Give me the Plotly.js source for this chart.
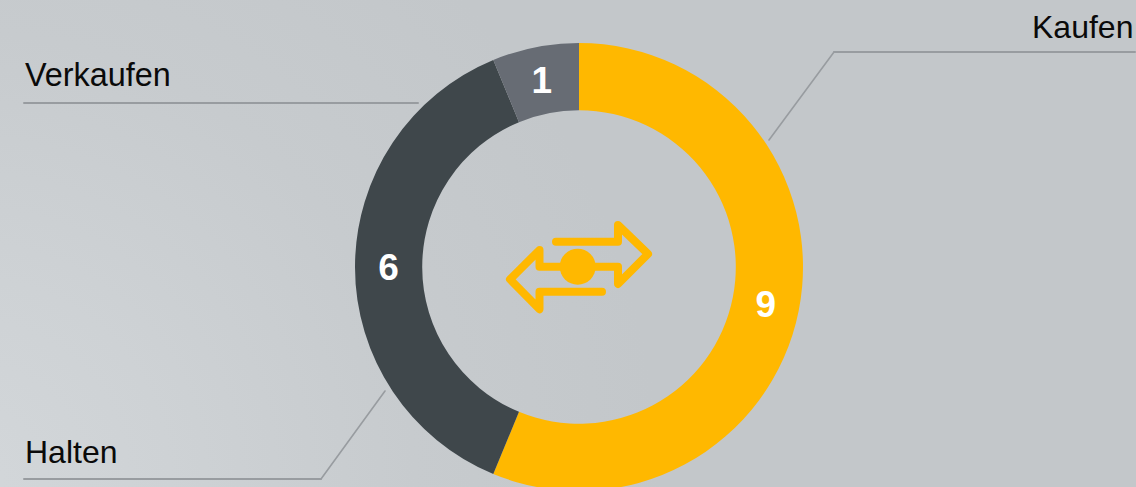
<!DOCTYPE html>
<html>
<head>
<meta charset="utf-8">
<script src="https://cdn.plot.ly/plotly-3.0.0.min.js"></script>
<style>
html,body{margin:0;padding:0;width:1136px;height:487px;overflow:hidden;
background:radial-gradient(circle 700px at -40px 487px,#d3d7da 0%,#ced2d5 30%,#c7cbce 65%,#c3c7ca 100%);}
#chart{width:1136px;height:500px;}
.shapelayer path{stroke-linejoin:round;stroke-linecap:round;}
</style>
</head>
<body>
<div id="chart"></div>
<script>
const categories = ["Kaufen", "Halten", "Verkaufen"];
const values = [9, 6, 1];
const sliceColors = ["#FFB800", "#3F474B", "#676C74"];

const W = 1136, H = 500;
const cx = 579, cy = 267, R = 224;
const px = x => x / W;
const py = y => 1 - y / H;
const pathOf = pts => pts.map((p, i) => (i ? "L" : "M") + px(p[0]) + "," + py(p[1])).join(" ");

const leaderColor = "#989CA0";
const iconColor = "#FFB800";
const leader = (pts, w) => ({type: "path", xref: "paper", yref: "paper", path: pathOf(pts), line: {color: leaderColor, width: w}});
const icon = pts => ({type: "path", xref: "paper", yref: "paper", path: pathOf(pts), line: {color: iconColor, width: 8}});

const shapes = [
  leader([[24,103],[418,103]], 2),
  leader([[769,140],[834,52]], 1.6),
  leader([[834,52],[1135,52]], 2),
  leader([[24,479],[321,479]], 2),
  leader([[321,479],[385,391]], 1.6),
  icon([[556,241.7],[618,241.7],[618,225],[648,254],[618,284],[618,266.7],[595,266.7]]),
  icon([[560,266.7],[539.5,266.7],[539.5,250],[510,279.3],[539.5,309.3],[539.5,291.7],[602,291.7]]),
  {type: "circle", xref: "paper", yref: "paper", x0: px(559.7), x1: px(595.7), y0: py(284.7), y1: py(248.7),
   fillcolor: iconColor, line: {color: iconColor, width: 0}}
];

const labelFamily = "Liberation Sans, Arial, sans-serif";
const annotations = [
  {text: categories[0], x: px(1134), y: py(27), xanchor: "right", font: {family: labelFamily, size: 32, color: "#0a0a0a"}},
  {text: categories[1], x: px(23.5), y: py(452), xanchor: "left", font: {family: labelFamily, size: 32, color: "#0a0a0a"}},
  {text: categories[2], x: px(23.5), y: py(75), xanchor: "left", font: {family: labelFamily, size: 32.4, color: "#0a0a0a"}}
].map(a => Object.assign(a, {xref: "paper", yref: "paper", yanchor: "middle", showarrow: false, borderpad: 0}));

Plotly.newPlot("chart", [{
  type: "pie",
  labels: categories,
  values: values,
  sort: false,
  direction: "clockwise",
  rotation: 0,
  hole: 0.7,
  marker: {colors: sliceColors, line: {width: 0}},
  textinfo: "value",
  textposition: "inside",
  insidetextorientation: "horizontal",
  textfont: {family: "Liberation Sans, Arial, sans-serif", size: 37, color: "#ffffff", weight: 700},
  hoverinfo: "none",
  domain: {x: [px(cx - R), px(cx + R)], y: [py(cy + R), py(cy - R)]}
}], {
  width: W, height: H,
  margin: {l: 0, r: 0, t: 0, b: 0},
  paper_bgcolor: "rgba(0,0,0,0)",
  plot_bgcolor: "rgba(0,0,0,0)",
  showlegend: false,
  shapes: shapes,
  annotations: annotations
}, {displayModeBar: false, staticPlot: true});
</script>
</body>
</html>
